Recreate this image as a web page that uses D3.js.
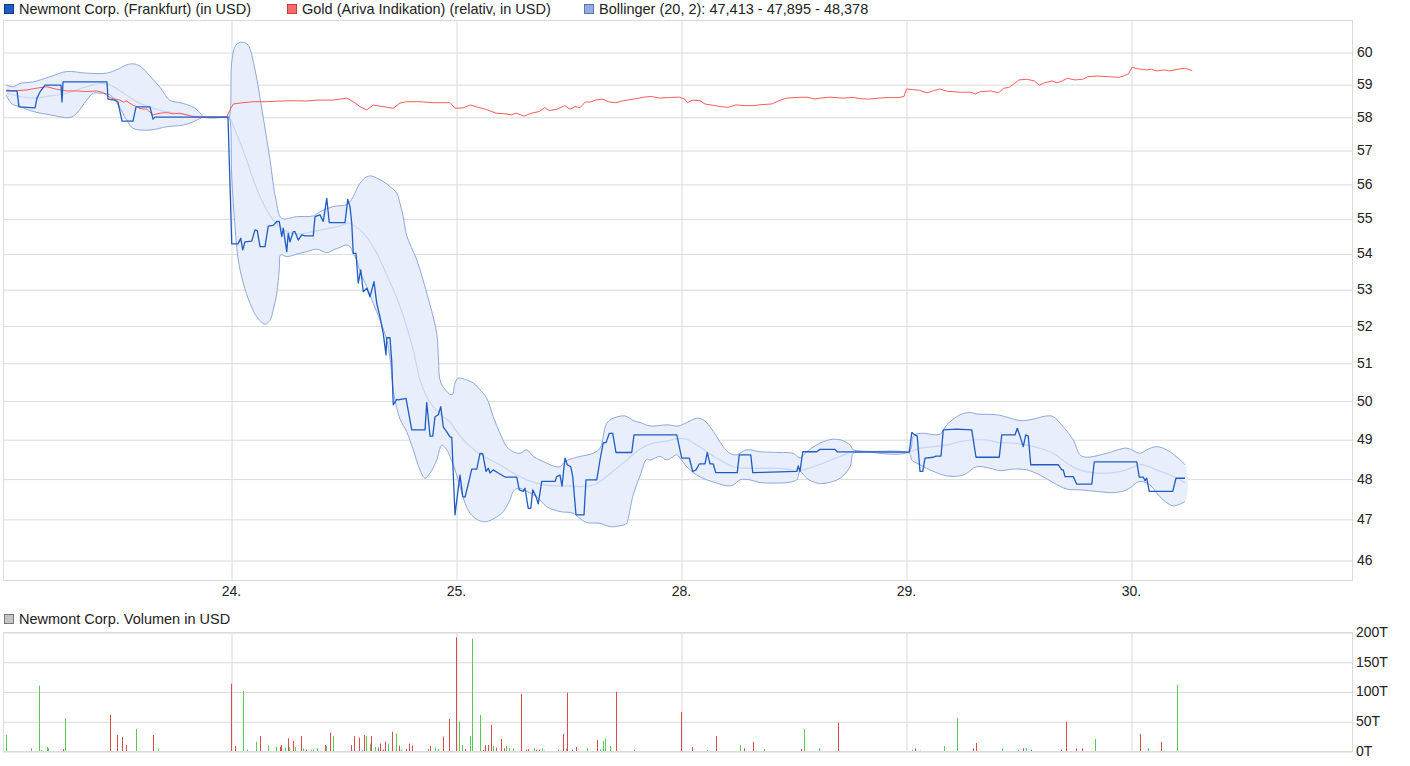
<!DOCTYPE html>
<html><head><meta charset="utf-8">
<script src="https://cdn.jsdelivr.net/npm/d3@7"></script>
<style>
body{margin:0;background:#fff;}
svg{display:block;font-family:"Liberation Sans",Arial,sans-serif;}
</style></head><body><svg id="c" width="1410" height="766"></svg>
<script>
// time unit: minutes of trading session, 900 per day, 0 = session start 23.
const dayTicks=[900,1800,2700,3600,4500];
const dayLabels=["24.","25.","28.","29.","30."];
const priceTicks=[46,47,48,49,50,51,52,53,54,55,56,57,58,59,60];
const volTicks=[0,50,100,150,200];
const volLabels=["0T","50T","100T","150T","200T"];
const legendLabels=["Newmont Corp. (Frankfurt) (in USD)","Gold (Ariva Indikation) (relativ, in USD)","Bollinger (20, 2): 47,413 - 47,895 - 48,378"];
const volLegend="Newmont Corp. Volumen in USD";

const newmont=[[0,58.79],[44,58.79],[52,58.30],[116,58.27],[124,58.57],[136,58.76],[156,58.97],[212,58.97],[220,58.97],[224,58.45],[228,59.07],[404,59.07],[408,58.54],[436,58.51],[448,58.45],[464,57.87],[508,57.87],[520,58.30],[576,58.30],[588,57.93],[596,57.99],[884,57.99],
[888,57.99],[903,54.27],[928,54.27],[939,54.43],[947,54.10],[956,54.33],[983,54.35],[996,54.67],[1005,54.65],[1016,54.19],[1036,54.19],[1049,54.78],[1069,54.80],[1083,54.91],[1093,54.91],[1103,54.48],[1109,54.72],[1123,54.05],[1129,54.57],[1136,54.33],[1149,54.62],[1156,54.62],[1169,54.38],[1183,54.53],[1196,54.50],[1229,54.50],[1236,55.05],[1256,55.10],[1269,54.91],[1283,55.58],[1293,54.88],[1356,54.88],[1367,55.55],[1376,55.34],[1383,54.86],[1389,54.00],[1400,54.00],[1409,53.17],[1419,53.54],[1429,52.93],[1443,53.03],[1456,52.79],[1472,53.21],[1483,52.61],[1496,52.24],[1509,51.79],[1520,51.21],[1523,51.67],[1536,51.67],[1543,51.03],
[1549,49.89],[1563,50.03],[1569,50.02],[1600,50.06],[1623,49.24],[1676,49.24],[1683,49.95],[1696,49.08],[1707,49.08],[1716,49.58],[1729,49.63],[1739,49.84],[1749,49.32],[1763,49.19],[1776,49.06],[1783,49.05],[1796,47.10],[1805,47.55],[1816,48.09],[1827,47.55],[1836,47.54],[1845,47.76],[1856,48.05],[1863,48.24],[1883,48.24],[1896,48.64],[1907,48.63],[1920,48.18],[1929,48.26],[1936,48.14],[1949,48.22],[1969,48.14],[1996,48.04],[2043,48.04],[2053,47.72],[2069,47.68],[2076,47.76],[2089,47.26],[2099,47.26],[2107,47.72],[2120,47.55],[2129,47.37],[2143,47.93],[2196,47.93],[2203,48.05],[2216,48.09],[2224,47.81],[2236,48.52],[2245,48.35],[2259,48.30],[2267,48.05],[2280,47.10],[2312,47.10],[2320,47.97],[2363,47.97],[2376,48.47],
[2389,48.91],[2400,48.91],[2413,49.15],[2427,49.15],[2440,48.66],[2503,48.66],[2512,49.11],[2683,49.11],[2703,48.52],[2733,48.52],[2747,48.18],[2760,48.22],[2773,48.37],[2796,48.37],[2805,48.66],[2816,48.37],[2829,48.37],[2839,48.15],[2925,48.15],[2933,48.60],[2979,48.60],[2987,48.15],[3163,48.18],[3169,48.32],[3176,48.18],[3187,48.68],[3243,48.68],[3256,48.74],[3316,48.74],[3325,48.68],[3613,48.67],
[3623,49.17],[3636,49.11],[3645,49.08],[3656,48.18],[3667,48.18],[3676,48.52],[3709,48.54],[3720,48.57],[3740,48.57],[3749,49.24],[3803,49.26],[3863,49.24],[3880,48.54],[3973,48.54],[3983,49.11],[4036,49.11],[4045,49.28],[4056,49.08],[4069,48.81],[4079,49.11],[4089,49.08],[4099,48.35],[4209,48.35],[4223,48.22],[4229,48.22],[4236,48.05],[4269,48.05],[4283,47.86],[4343,47.86],[4353,48.42],[4523,48.42],[4533,48.04],[4549,48.04],[4556,47.95],[4563,48.01],[4573,47.68],[4667,47.68],[4680,48.01],[4716,48.01]];

const gold=[[3,58.82],[29,58.79],[83,58.82],[109,58.86],[136,58.89],[163,58.92],[203,58.84],[243,58.79],[283,58.79],[323,58.77],[363,58.79],[389,58.74],[403,58.66],[416,58.59],[429,58.55],[456,58.51],[469,58.45],[483,58.48],[496,58.41],[509,58.35],[523,58.31],[536,58.25],[563,58.23],[589,58.06],[616,58.11],[643,58.13],[669,58.09],[696,58.11],[723,58.06],[749,58.00],[776,58.00],[829,57.98],[883,58.00],[896,58.21],[909,58.39],[936,58.42],[989,58.46],[1043,58.46],[1096,58.48],[1149,58.49],[1203,58.48],[1243,58.51],[1309,58.51],[1363,58.57],[1389,58.46],[1416,58.31],[1443,58.21],[1469,58.36],[1509,58.31],[1549,58.26],[1576,58.42],[1603,58.46],[1656,58.46],[1709,58.43],[1776,58.43],[1796,58.26],[1827,58.27],[1858,58.36],[1888,58.29],[1919,58.23],[1960,58.11],[2000,58.09],[2021,58.06],[2041,58.11],[2072,58.02],[2102,58.11],[2133,58.16],[2154,58.28],[2174,58.19],[2204,58.23],[2235,58.34],[2256,58.23],[2276,58.31],[2296,58.28],[2317,58.45],[2337,58.45],[2358,58.51],[2388,58.54],[2409,58.46],[2439,58.43],[2470,58.49],[2511,58.54],[2552,58.60],[2582,58.62],[2613,58.57],[2654,58.59],[2694,58.60],[2715,58.54],[2725,58.43],[2745,58.51],[2776,58.49],[2796,58.39],[2837,58.34],[2858,58.31],[2888,58.29],[2919,58.36],[2960,58.34],[2990,58.34],[3021,58.37],[3062,58.39],[3092,58.49],[3123,58.57],[3164,58.59],[3204,58.60],[3235,58.54],[3256,58.57],[3296,58.60],[3348,58.57],[3388,58.59],[3419,58.55],[3450,58.54],[3490,58.57],[3531,58.59],[3572,58.59],[3592,58.62],[3602,58.85],[3654,58.81],[3684,58.73],[3715,58.81],[3735,58.85],[3766,58.78],[3817,58.75],[3858,58.75],[3878,58.70],[3898,58.77],[3939,58.79],[3970,58.73],[3990,58.87],[4011,58.90],[4031,59.00],[4052,59.13],[4082,59.15],[4113,59.10],[4133,58.97],[4154,59.04],[4184,59.10],[4204,59.04],[4225,59.10],[4245,59.18],[4276,59.13],[4307,59.15],[4327,59.23],[4368,59.25],[4409,59.23],[4450,59.21],[4470,59.25],[4490,59.32],[4504,59.52],[4531,59.47],[4562,59.44],[4582,59.46],[4602,59.41],[4633,59.44],[4654,59.41],[4694,59.47],[4715,59.49],[4745,59.42]];

const bollUpper=[[0,58.97],[29,58.92],[56,59.02],[109,59.07],[176,59.23],[243,59.39],[323,59.34],[403,59.34],[449,59.47],[483,59.60],[509,59.63],[536,59.56],[576,59.25],[616,58.90],[656,58.50],[696,58.43],[748,58.30],[776,58.12],[792,57.99],[884,57.99],[892,57.99],[904,59.75],[920,60.22],[944,60.31],[968,60.22],[996,59.44],[1024,58.21],[1056,56.71],[1080,55.53],[1103,55.00],[1163,55.05],[1229,55.07],[1256,55.19],[1309,55.34],[1360,55.39],[1376,55.48],[1389,55.63],[1416,56.02],[1443,56.21],[1463,56.23],[1483,56.17],[1509,56.07],[1536,55.92],[1563,55.73],[1576,55.43],[1589,55.05],[1603,54.50],[1643,53.82],[1683,52.89],[1723,51.79],[1730,51.07],[1740,50.46],[1784,50.15],[1796,50.46],[1809,50.59],[1843,50.54],[1869,50.46],[1896,50.28],[1923,50.06],[1949,49.58],[1976,49.15],[2003,48.81],[2029,48.68],[2056,48.64],[2083,48.73],[2109,48.56],[2136,48.47],[2163,48.39],[2189,48.32],[2216,48.30],[2236,48.43],[2256,48.49],[2296,48.56],[2349,48.64],[2376,48.77],[2403,49.41],[2429,49.54],[2476,49.60],[2509,49.48],[2536,49.43],[2576,49.34],[2643,49.37],[2689,49.34],[2723,49.43],[2763,49.54],[2789,49.50],[2816,49.32],[2843,49.06],[2869,48.81],[2896,48.64],[2923,48.60],[2963,48.73],[3016,48.68],[3096,48.66],[3149,48.64],[3176,48.52],[3203,48.68],[3256,48.90],[3309,49.00],[3349,48.96],[3376,48.85],[3389,48.73],[3416,48.70],[3612,48.68],[3629,49.08],[3656,49.15],[3736,49.13],[3763,49.37],[3816,49.63],[3856,49.69],[3883,49.65],[3963,49.63],[4003,49.57],[4056,49.48],[4096,49.50],[4163,49.60],[4189,49.58],[4229,49.32],[4269,48.98],[4296,48.60],[4323,48.54],[4403,48.64],[4483,48.77],[4536,48.64],[4563,48.73],[4603,48.81],[4656,48.68],[4716,48.35]];

const bollMiddle=[[3,58.72],[56,58.62],[109,58.57],[163,58.62],[243,58.72],[323,58.92],[376,59.02],[416,58.97],[483,58.66],[536,58.41],[616,58.20],[696,58.09],[776,58.00],[884,57.99],[892,57.99],[924,57.45],[963,56.70],[989,56.12],[1016,55.63],[1043,55.24],[1069,54.95],[1123,54.62],[1163,54.55],[1229,54.62],[1296,54.72],[1336,54.78],[1369,54.86],[1416,54.67],[1469,54.19],[1523,53.40],[1576,52.52],[1629,51.34],[1656,50.54],[1683,50.10],[1709,49.84],[1749,49.58],[1776,49.45],[1803,49.19],[1843,48.90],[1883,48.68],[1923,48.52],[1976,48.35],[2029,48.14],[2083,47.97],[2136,47.87],[2189,47.82],[2243,47.82],[2296,47.80],[2349,47.84],[2376,47.93],[2429,48.19],[2483,48.47],[2536,48.75],[2589,48.90],[2643,48.95],[2696,49.02],[2723,49.00],[2763,48.85],[2803,48.68],[2856,48.47],[2909,48.30],[2963,48.26],[3096,48.26],[3176,48.20],[3229,48.30],[3283,48.43],[3336,48.56],[3389,48.68],[3616,48.68],[3656,48.77],[3709,48.81],[3763,48.85],[3816,48.94],[3869,48.98],[3923,48.98],[3976,48.91],[4029,48.90],[4083,48.85],[4136,48.77],[4189,48.64],[4243,48.39],[4296,48.22],[4349,48.15],[4429,48.15],[4483,48.22],[4536,48.35],[4563,48.32],[4603,48.22],[4656,48.09],[4716,47.90]];

const bollLower=[[0,58.67],[24,58.39],[56,58.31],[109,58.16],[176,58.06],[256,57.98],[283,58.11],[323,58.51],[349,58.72],[376,58.72],[416,58.67],[449,58.36],[483,57.90],[509,57.65],[576,57.60],[643,57.70],[709,57.75],[749,57.85],[776,57.95],[792,57.99],[884,57.99],[892,57.99],[903,56.21],[916,54.76],[929,53.82],[949,53.17],[976,52.61],[1003,52.24],[1036,52.04],[1056,52.15],[1069,52.43],[1083,52.89],[1093,53.54],[1099,53.96],[1123,53.91],[1163,53.98],[1203,54.05],[1243,54.12],[1283,54.02],[1309,54.10],[1336,54.17],[1360,54.24],[1376,54.19],[1389,54.00],[1403,53.82],[1416,53.49],[1443,53.07],[1469,52.61],[1496,52.15],[1523,51.61],[1536,51.13],[1552,50.15],[1576,49.52],[1603,49.19],[1629,48.73],[1656,48.22],[1676,48.01],[1696,48.14],[1723,48.47],[1736,48.77],[1743,48.85],[1763,48.73],[1776,48.56],[1803,48.09],[1816,47.80],[1836,47.39],[1856,47.14],[1883,46.99],[1909,46.93],[1936,46.96],[1963,47.05],[1989,47.18],[2016,47.47],[2029,47.68],[2049,47.76],[2083,47.68],[2123,47.54],[2163,47.30],[2216,47.18],[2269,47.14],[2296,47.01],[2323,46.91],[2376,46.89],[2416,46.81],[2456,46.83],[2483,46.89],[2489,47.01],[2509,47.60],[2536,48.07],[2563,48.49],[2576,48.47],[2616,48.56],[2643,48.47],[2683,48.60],[2696,48.52],[2723,48.30],[2763,48.09],[2803,47.97],[2843,47.89],[2883,47.82],[2909,47.84],[2936,47.97],[2976,47.97],[3016,47.90],[3069,47.89],[3123,47.90],[3163,47.97],[3176,48.18],[3203,48.01],[3243,47.89],[3283,47.89],[3336,48.01],[3376,48.30],[3389,48.64],[3416,48.66],[3613,48.64],[3623,48.47],[3643,48.39],[3696,48.22],[3763,48.07],[3829,48.09],[3883,48.30],[3936,48.26],[3976,48.20],[4029,48.24],[4083,48.22],[4136,48.09],[4189,47.90],[4243,47.74],[4296,47.72],[4363,47.68],[4429,47.65],[4483,47.72],[4536,47.93],[4576,47.84],[4603,47.64],[4629,47.47],[4669,47.32],[4716,47.43]];

// [time, volume in thousand USD, direction (1 up, -1 down)]
const volume=[[1,27,1],[98,4.5,1],[130,110,1],[138,1.7,1],[162,6.7,1],[169,4.5,1],[226,3.4,-1],[235,55,1],[414,60.7,-1],[444,27,-1],[465,23.6,-1],[478,10,-1],[521,37,1],[587,27,-1],[606,4.5,1],
[901,113,-1],[914,8.4,-1],[946,101,1],[965,2.2,1],[998,15.7,1],[1017,25.3,-1],[1049,9,1],[1081,7.3,1],[1094,7.3,-1],[1101,10,-1],[1114,5.6,1],[1126,21.3,-1],[1133,6.7,1],[1146,16.9,-1],[1158,6.7,1],[1178,25.3,-1],[1187,4.5,1],[1199,2.2,-1],[1219,2.2,1],[1228,2.2,1],[1242,4.5,1],[1274,10,-1],[1281,8.4,1],[1294,31,-1],[1306,25.3,1],[1378,10,-1],[1390,25.3,-1],[1410,22.5,-1],[1422,2.2,1],[1430,27,-1],[1442,25.3,1],[1454,12.4,1],[1462,25.3,-1],[1474,6.7,1],[1487,5.6,-1],[1494,12.4,-1],[1506,2.2,-1],[1517,15.7,-1],[1526,12.4,1],[1544,32.6,-1],[1558,29.2,1],[1571,9,-1],[1578,2.2,1],[1601,3.4,-1],[1610,12.4,-1],[1622,9,-1],[1687,3.4,1],[1694,9,-1],[1717,5.6,1],[1726,3.4,1],[1749,24.2,-1],[1771,54,-1],
[1801,191,-1],[1814,49.4,1],[1822,10,1],[1835,3.4,-1],[1854,25.3,1],[1865,189,1],[1896,60.7,1],[1906,1.7,-1],[1917,10,-1],[1928,10,-1],[1938,43.8,-1],[1949,8.4,1],[1960,5.6,-1],[1981,20.2,-1],[1992,4.5,-1],[2001,8.4,1],[2012,5.6,1],[2026,4.5,1],[2058,96,-1],[2080,2.2,-1],[2087,3.4,-1],[2110,4.5,1],[2119,2.2,-1],[2130,2.2,-1],[2142,4.5,1],[2151,0.6,-1],[2208,2.2,1],[2215,0.6,1],[2226,28.7,-1],[2238,4.5,1],[2244,97.8,-1],[2265,2.2,-1],[2278,6.7,-1],[2322,5,1],[2362,18.5,-1],[2374,2.2,1],[2387,16.9,1],[2394,21.3,1],[2414,8.4,1],[2438,99.4,-1],[2510,2.2,1],
[2701,65.7,-1],[2746,6.7,-1],[2805,1.7,1],[2840,25.3,-1],[2934,10,1],[2954,4.5,-1],[2986,15.2,-1],[3030,3.4,1],[3178,3.4,-1],[3191,37,1],[3254,4.5,1],[3327,47.2,-1],
[3622,2.2,1],[3635,4.5,-1],[3655,0.6,-1],[3751,8.4,1],[3803,55.6,1],[3868,4.5,-1],[3879,13.5,-1],[3982,4.5,1],[4046,2.2,1],[4066,4.5,-1],[4078,4.5,1],[4098,2.2,-1],[4218,2.2,-1],[4238,48.9,-1],[4278,4.5,-1],[4303,4.5,-1],[4354,20.2,1],[4535,28.7,-1],[4566,4.5,1],[4618,15.2,-1],[4682,111,1]];

const svg=d3.select("#c");
const L=3,R=1352,T=20,B=580,VT=632,VB=751;
const x=d3.scaleLinear().domain([0,5400]).range([6,1356]);
const y=d3.scaleLog().domain([46,60]).range([560,52]);
const yv=d3.scaleLinear().domain([0,200]).range([VB,VT]);
const gridC="#dadada";

// frames
svg.append("rect").attr("x",L+0.5).attr("y",T+0.5).attr("width",R-L).attr("height",B-T).attr("fill","none").attr("stroke",gridC);
svg.append("rect").attr("x",L+0.5).attr("y",VT+0.5).attr("width",R-L).attr("height",VB-VT).attr("fill","none").attr("stroke",gridC);

// price grid + axis
const gy=svg.append("g").attr("transform",`translate(${R},0)`).call(d3.axisRight(y).tickValues(priceTicks).tickFormat(d3.format("d")).tickSize(-(R-L)).tickPadding(5));
gy.select(".domain").remove();
gy.selectAll(".tick line").attr("stroke",gridC).attr("transform","translate(0,0.5)");
gy.selectAll(".tick text").attr("font-size","14px").attr("fill","#222").attr("font-family","Liberation Sans, Arial, sans-serif");

// vertical grid + x labels
const gx=svg.append("g").attr("transform",`translate(0,${B})`).call(d3.axisBottom(x).tickValues(dayTicks).tickFormat((d,i)=>dayLabels[i]).tickSize(-(B-T)).tickPadding(6));
gx.select(".domain").remove();
gx.selectAll(".tick line").attr("stroke",gridC).attr("transform","translate(0.5,0)");
gx.selectAll(".tick text").attr("font-size","14px").attr("fill","#222").attr("font-family","Liberation Sans, Arial, sans-serif");

// volume grid + axis
const gvy=svg.append("g").attr("transform",`translate(${R},0)`).call(d3.axisRight(yv).tickValues(volTicks).tickFormat((d,i)=>volLabels[i]).tickSize(-(R-L)).tickPadding(4));
gvy.select(".domain").remove();
gvy.selectAll(".tick line").attr("stroke",gridC).attr("transform","translate(0,0.5)");
gvy.selectAll(".tick text").attr("font-size","14px").attr("fill","#222").attr("font-family","Liberation Sans, Arial, sans-serif");
const gvx=svg.append("g").attr("transform",`translate(0,${VB})`).call(d3.axisBottom(x).tickValues(dayTicks).tickFormat("").tickSize(-(VB-VT)));
gvx.select(".domain").remove();
gvx.selectAll(".tick line").attr("stroke",gridC).attr("transform","translate(0.5,0)");

// Bollinger band
const curve=d3.curveCatmullRom.alpha(0.5);
const ln=d3.line().x(d=>x(d[0])).y(d=>y(d[1])).curve(curve);
const lnLin=d3.line().x(d=>x(d[0])).y(d=>y(d[1]));
svg.append("path").attr("d",ln(bollUpper.concat(bollLower.slice().reverse()))+"Z").attr("fill","#e8eefb").attr("stroke","none");
svg.append("path").attr("d",ln(bollMiddle)).attr("fill","none").attr("stroke","#c5d6f5").attr("stroke-width",1.2);
svg.append("path").attr("d",ln(bollUpper)).attr("fill","none").attr("stroke","#8ea8de").attr("stroke-width",1);
svg.append("path").attr("d",ln(bollLower)).attr("fill","none").attr("stroke","#8ea8de").attr("stroke-width",1);

// gold
svg.append("path").attr("d",lnLin(gold)).attr("fill","none").attr("stroke","#ff5c5c").attr("stroke-width",1).attr("stroke-linejoin","round");
// newmont
svg.append("path").attr("d",lnLin(newmont)).attr("fill","none").attr("stroke","#1f5cc2").attr("stroke-width",1.3).attr("stroke-linejoin","round");

// volume bars
svg.append("g").selectAll("line").data(volume).join("line")
  .attr("x1",d=>Math.round(x(d[0]))+0.5).attr("x2",d=>Math.round(x(d[0]))+0.5)
  .attr("y1",yv(0)).attr("y2",d=>yv(d[1]))
  .attr("stroke",d=>d[2]>0?"#55cc55":"#dd4a4a").attr("stroke-width",1);

// legends
const legCols=[["#1f5cc2","#10388a"],["#ff6b6b","#c04040"],["#94ace2","#5d75b0"]];
const legX=[4.5,287.5,584.5];
legendLabels.forEach((t,i)=>{
  svg.append("rect").attr("x",legX[i]).attr("y",4.5).attr("width",9).attr("height",9).attr("fill",legCols[i][0]).attr("stroke",legCols[i][1]);
  svg.append("text").attr("x",legX[i]+14.5).attr("y",14).attr("font-size","14.5px").attr("fill","#222").text(t);
});
svg.append("rect").attr("x",4.5).attr("y",614.5).attr("width",9).attr("height",9).attr("fill","#c4c4c4").attr("stroke","#777");
svg.append("text").attr("x",19).attr("y",624).attr("font-size","14.5px").attr("fill","#222").text(volLegend);
</script></body></html>
